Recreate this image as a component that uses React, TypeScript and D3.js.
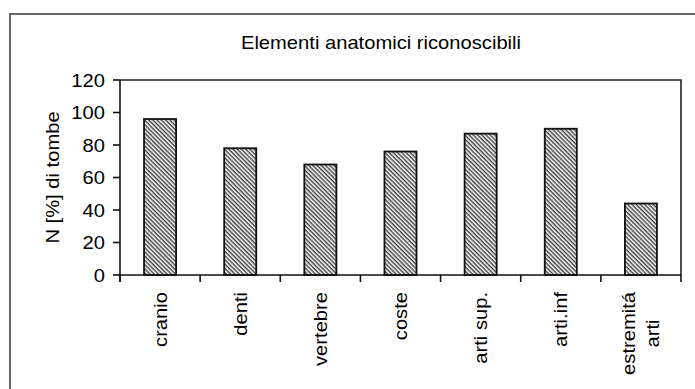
import React, { useEffect, useRef } from "react";
import * as d3 from "d3";

const categories: string[][] = [
  ["cranio"],
  ["denti"],
  ["vertebre"],
  ["coste"],
  ["arti sup."],
  ["arti.inf"],
  ["estremitá", "arti"],
];
const values: number[] = [96, 78, 68, 76, 87, 90, 44];
const yTicks: number[] = [0, 20, 40, 60, 80, 100, 120];
const title = "Elementi anatomici riconoscibili";
const yLabel = "N [%] di tombe";

const W = 695;
const H = 389;
const FONT = "'Liberation Sans', Arial, sans-serif";
const FS = 18;
const SX = 1.12;

export default function App() {
  const ref = useRef<SVGSVGElement | null>(null);

  useEffect(() => {
    const svg = d3.select(ref.current);
    svg.selectAll("*").remove();

    const left = 120, right = 681, top = 80, bottom = 275;

    const defs = svg.append("defs");
    const pat = defs
      .append("pattern")
      .attr("id", "hatch")
      .attr("patternUnits", "userSpaceOnUse")
      .attr("width", 3)
      .attr("height", 3)
      .attr("patternTransform", "rotate(45)");
    pat.append("rect").attr("width", 3).attr("height", 3).attr("fill", "#ffffff");
    pat
      .append("line")
      .attr("x1", 0).attr("y1", 0.75).attr("x2", 3).attr("y2", 0.75)
      .attr("stroke", "#444")
      .attr("stroke-width", 1.5);

    svg.append("rect").attr("width", W).attr("height", H).attr("fill", "#fff");

    // outer border
    svg
      .append("rect")
      .attr("x", 10).attr("y", 14)
      .attr("width", W + 20).attr("height", H + 20)
      .attr("fill", "none")
      .attr("stroke", "#666")
      .attr("stroke-width", 2);

    const x = d3
      .scaleBand<number>()
      .domain(categories.map((_, i) => i))
      .range([left, right])
      .paddingInner(0.6)
      .paddingOuter(0.3);
    const y = d3.scaleLinear().domain([0, 120]).range([bottom, top]);

    // plot frame (top and right)
    svg
      .append("path")
      .attr("d", `M${left},${top}H${right}V${bottom}`)
      .attr("fill", "none")
      .attr("stroke", "#222")
      .attr("stroke-width", 1.6);

    // bars
    svg
      .selectAll("rect.bar")
      .data(values)
      .join("rect")
      .attr("class", "bar")
      .attr("x", (_, i) => x(i)!)
      .attr("width", x.bandwidth())
      .attr("y", (d) => y(d))
      .attr("height", (d) => y(0) - y(d))
      .attr("fill", "url(#hatch)")
      .attr("stroke", "#111")
      .attr("stroke-width", 1.8);

    // y axis
    const step = (right - left) / categories.length;
    svg
      .append("line")
      .attr("x1", left).attr("x2", left)
      .attr("y1", top).attr("y2", bottom + 7)
      .attr("stroke", "#111").attr("stroke-width", 1.6);
    const yt = svg.append("g");
    yTicks.forEach((t) => {
      yt.append("line")
        .attr("x1", left - 7).attr("x2", left)
        .attr("y1", y(t)).attr("y2", y(t))
        .attr("stroke", "#111").attr("stroke-width", 1.6);
      yt.append("text")
        .attr("transform", `translate(${left - 15},${y(t) + 6.5}) scale(${SX},1)`)
        .attr("text-anchor", "end")
        .attr("font-family", FONT)
        .attr("font-size", FS)
        .attr("fill", "#000")
        .text(String(t));
    });

    // x axis
    svg
      .append("line")
      .attr("x1", left).attr("x2", right)
      .attr("y1", bottom).attr("y2", bottom)
      .attr("stroke", "#111").attr("stroke-width", 1.6);
    for (let i = 0; i <= categories.length; i++) {
      const xx = left + i * step;
      svg
        .append("line")
        .attr("x1", xx).attr("x2", xx)
        .attr("y1", bottom).attr("y2", bottom + 7)
        .attr("stroke", "#111").attr("stroke-width", 1.6);
    }

    // x labels
    const labelTop = 292;
    const lineH = 24;
    categories.forEach((lines, i) => {
      const cx = x(i)! + x.bandwidth() / 2;
      const g = svg.append("g");
      const texts = lines.map((ln) =>
        g
          .append("text")
          .attr("text-anchor", "middle")
          .attr("font-family", FONT)
          .attr("font-size", FS)
          .attr("fill", "#000")
          .text(ln)
      );
      const lens = texts.map((t) => (t.node() as SVGTextElement).getComputedTextLength() * SX);
      const maxLen = Math.max(...lens);
      const cy = labelTop + maxLen / 2;
      const n = lines.length;
      texts.forEach((t, k) => {
        const off = (k - (n - 1) / 2) * lineH;
        const bx = cx + off + 6.5;
        t.attr("transform", `translate(${bx},${cy}) rotate(-90) scale(${SX},1)`);
      });
    });

    // title
    svg
      .append("text")
      .attr("transform", `translate(381,49) scale(${SX},1)`)
      .attr("text-anchor", "middle")
      .attr("font-family", FONT)
      .attr("font-size", FS)
      .attr("fill", "#000")
      .text(title);

    // y label
    svg
      .append("text")
      .attr("transform", `translate(59,${(top + bottom) / 2}) rotate(-90) scale(${SX},1)`)
      .attr("text-anchor", "middle")
      .attr("font-family", FONT)
      .attr("font-size", FS)
      .attr("fill", "#000")
      .text(yLabel);
  }, []);

  return (
    <svg
      ref={ref}
      width={W}
      height={H}
      style={{ position: "absolute", left: 0, top: 0, display: "block" }}
    />
  );
}
